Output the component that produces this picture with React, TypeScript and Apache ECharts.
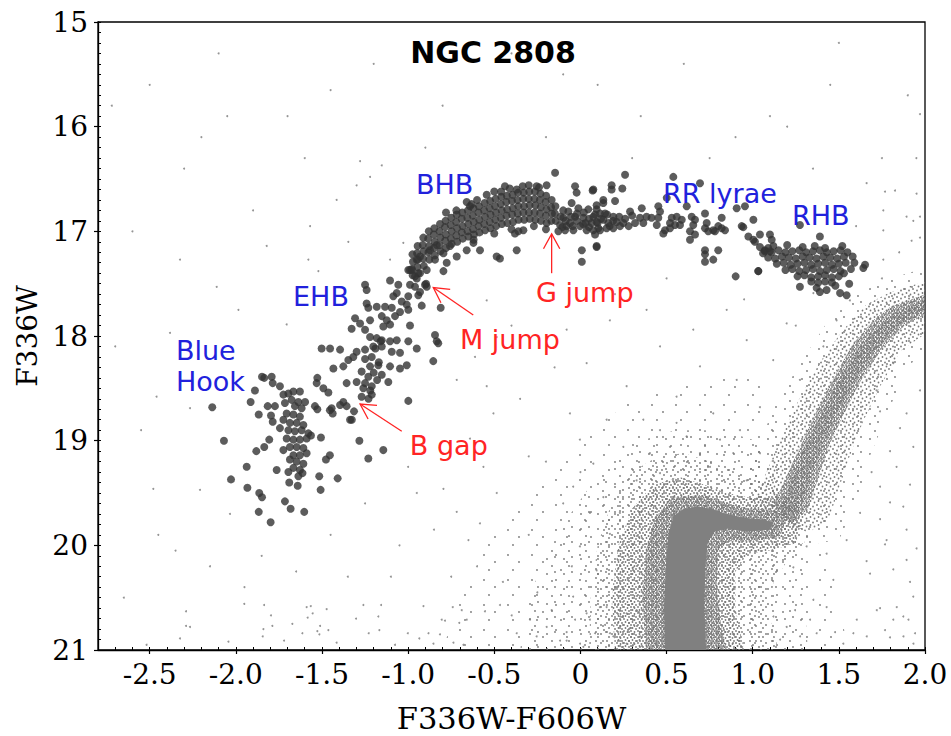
import { useEffect, useRef } from "react";
import * as echarts from "echarts";

// Axis ranges and tick labels
const X_MIN = -2.8;
const X_MAX = 2.0;
const Y_MIN = 15;
const Y_MAX = 21;
const xTickValues = [-2.5, -2.0, -1.5, -1.0, -0.5, 0, 0.5, 1.0, 1.5, 2.0];
const yTickValues = [15, 16, 17, 18, 19, 20, 21];

// Horizontal-branch stars, grouped by segment (colour F336W-F606W, magnitude F336W)
const blueHook = [
  [-2.137, 18.68], [-2.069, 19.0], [-2.028, 19.37], [-1.937, 19.25], [-1.933, 19.45], [-1.867, 19.68],
  [-1.798, 19.78], [-1.864, 19.5], [-1.848, 19.54], [-1.881, 19.1], [-1.835, 19.06], [-1.806, 18.99],
  [-1.867, 18.75], [-1.914, 18.63], [-1.889, 18.52], [-1.848, 18.39], [-1.835, 18.4], [-1.792, 18.39],
  [-1.786, 18.45], [-1.744, 18.48], [-1.815, 18.67], [-1.773, 18.67], [-1.796, 18.76], [-1.786, 18.82],
  [-1.744, 18.88], [-1.763, 19.28], [-1.715, 19.58], [-1.682, 19.65], [-1.603, 19.68], [-1.69, 19.4],
  [-1.641, 19.43], [-1.613, 19.31], [-1.516, 19.34], [-1.508, 19.47], [-1.409, 19.36], [-1.477, 19.18],
  [-1.454, 19.14], [-1.506, 18.97], [-1.564, 18.95], [-1.541, 18.67], [-1.527, 18.7], [-1.527, 18.4],
  [-1.531, 18.45], [-1.492, 18.5], [-1.463, 18.54], [-1.454, 18.71], [-1.438, 18.74], [-1.376, 18.63],
  [-1.357, 18.67], [-1.314, 18.72], [-1.337, 18.8], [-1.283, 19.0], [-1.231, 19.17], [-1.357, 18.45],
  [-1.434, 18.31],
  [-1.724, 18.56], [-1.695, 18.55], [-1.666, 18.53], [-1.628, 18.53], [-1.676, 18.61], [-1.637, 18.63],
  [-1.598, 18.63], [-1.715, 18.64], [-1.657, 18.67], [-1.618, 18.69], [-1.705, 18.74], [-1.666, 18.75],
  [-1.628, 18.77], [-1.724, 18.8], [-1.686, 18.83], [-1.647, 18.83], [-1.608, 18.85], [-1.695, 18.9],
  [-1.657, 18.91], [-1.618, 18.9], [-1.579, 18.93], [-1.705, 18.98], [-1.666, 18.99], [-1.628, 18.99],
  [-1.589, 18.98], [-1.686, 19.06], [-1.647, 19.06], [-1.608, 19.07], [-1.724, 19.09], [-1.666, 19.14],
  [-1.628, 19.14], [-1.589, 19.12], [-1.686, 19.18], [-1.647, 19.2], [-1.608, 19.22], [-1.666, 19.26],
  [-1.628, 19.28], [-1.695, 19.3], [-1.637, 19.34],
];

const ehb = [
  [-1.105, 17.47], [-0.989, 17.51], [-0.96, 17.53], [-0.941, 17.61], [-0.896, 17.5], [-0.892, 17.53],
  [-0.921, 17.71], [-0.811, 17.73], [-1.066, 17.59], [-1.086, 17.62], [-1.037, 17.67], [-1.008, 17.7],
  [-0.999, 17.75], [-1.047, 17.77], [-1.25, 17.51], [-1.241, 17.56], [-1.241, 17.69], [-1.231, 17.73],
  [-1.182, 17.72], [-1.134, 17.72], [-1.095, 17.73], [-1.153, 17.81], [-1.124, 17.85], [-1.076, 17.81],
  [-1.144, 17.91], [-1.105, 17.89], [-0.989, 17.9], [-1.308, 17.83], [-1.328, 17.93], [-1.279, 17.88],
  [-1.25, 17.94], [-1.221, 17.85], [-1.221, 18.01], [-1.182, 18.02], [-1.153, 18.04], [-1.105, 18.05],
  [-1.066, 18.04], [-0.999, 18.05], [-0.95, 18.12], [-0.844, 17.99], [-0.834, 18.05], [-0.854, 18.24],
  [-1.299, 18.15], [-1.25, 18.13], [-1.202, 18.1], [-1.153, 18.1], [-1.047, 18.16], [-1.095, 18.15],
  [-1.211, 18.2], [-1.221, 18.29], [-1.173, 18.28], [-1.105, 18.29], [-1.047, 18.31], [-1.008, 18.28],
  [-1.395, 18.13], [-1.347, 18.23], [-1.318, 18.2], [-1.376, 18.29], [-1.453, 18.12], [-1.502, 18.12],
  [-1.27, 18.34], [-1.231, 18.39], [-1.25, 18.45], [-1.211, 18.48], [-1.299, 18.44], [-1.211, 18.56],
  [-1.26, 18.5], [-1.153, 18.37], [-1.115, 18.44], [-0.999, 18.62], [-1.2, 18.35], [-1.18, 18.42],
  [-1.22, 18.52], [-1.17, 18.25], [-1.25, 18.22], [-1.19, 18.12], [-1.16, 18.05], [-1.23, 18.6],
  [-1.27, 18.58], [-1.444, 18.69], [-1.327, 18.8], [-1.395, 18.66], [-1.144, 19.09], [-1.057, 17.51],
  [-0.999, 17.62], [-0.95, 17.45], [-0.902, 17.51], [-0.931, 17.58], [-0.999, 17.37], [-0.825, 18.07],
];

const bhb = [
  [-0.975, 17.22], [-0.972, 17.29], [-0.978, 17.36], [-0.974, 17.42],
  [-0.945, 17.14], [-0.948, 17.21], [-0.943, 17.27], [-0.946, 17.34], [-0.941, 17.4],
  [-0.912, 17.06], [-0.915, 17.13], [-0.91, 17.19], [-0.913, 17.26], [-0.909, 17.33],
  [-0.88, 17.0], [-0.884, 17.07], [-0.878, 17.14], [-0.882, 17.2], [-0.877, 17.27],
  [-0.848, 16.97], [-0.851, 17.03], [-0.846, 17.1], [-0.85, 17.16], [-0.845, 17.23],
  [-0.815, 16.93], [-0.818, 17.0], [-0.813, 17.06], [-0.817, 17.13], [-0.812, 17.19],
  [-0.783, 16.9], [-0.786, 16.96], [-0.781, 17.03], [-0.785, 17.09], [-0.78, 17.16],
  [-0.75, 16.87], [-0.753, 16.94], [-0.748, 17.0], [-0.752, 17.07], [-0.747, 17.12],
  [-0.718, 16.84], [-0.721, 16.91], [-0.716, 16.97], [-0.72, 17.04], [-0.715, 17.1],
  [-0.686, 16.82], [-0.689, 16.88], [-0.684, 16.95], [-0.688, 17.01], [-0.683, 17.07],
  [-0.653, 16.8], [-0.656, 16.87], [-0.651, 16.93], [-0.655, 17.0], [-0.65, 17.05],
  [-0.621, 16.78], [-0.624, 16.85], [-0.619, 16.91], [-0.623, 16.98], [-0.618, 17.03],
  [-0.589, 16.76], [-0.592, 16.82], [-0.587, 16.89], [-0.591, 16.95], [-0.586, 17.01],
  [-0.556, 16.73], [-0.559, 16.8], [-0.554, 16.86], [-0.558, 16.93], [-0.553, 16.99],
  [-0.524, 16.71], [-0.527, 16.78], [-0.522, 16.84], [-0.526, 16.91], [-0.521, 16.97],
  [-0.492, 16.69], [-0.495, 16.76], [-0.49, 16.82], [-0.494, 16.89], [-0.489, 16.95],
  [-0.459, 16.67], [-0.462, 16.74], [-0.457, 16.8], [-0.461, 16.87], [-0.456, 16.93],
  [-0.427, 16.66], [-0.43, 16.72], [-0.425, 16.79], [-0.429, 16.85], [-0.424, 16.92],
  [-0.394, 16.65], [-0.397, 16.71], [-0.392, 16.78], [-0.396, 16.84], [-0.391, 16.91],
  [-0.362, 16.63], [-0.365, 16.7], [-0.36, 16.76], [-0.364, 16.83], [-0.359, 16.89],
  [-0.329, 16.63], [-0.332, 16.69], [-0.327, 16.76], [-0.331, 16.82], [-0.326, 16.89],
  [-0.297, 16.62], [-0.3, 16.69], [-0.295, 16.75], [-0.299, 16.82], [-0.294, 16.88],
  [-0.264, 16.62], [-0.267, 16.69], [-0.262, 16.75], [-0.266, 16.82], [-0.261, 16.89],
  [-0.232, 16.64], [-0.235, 16.7], [-0.23, 16.77], [-0.234, 16.83], [-0.229, 16.9],
  [-0.199, 16.66], [-0.202, 16.72], [-0.197, 16.79], [-0.201, 16.85], [-0.196, 16.92],
  [-0.167, 16.7], [-0.17, 16.77], [-0.165, 16.83], [-0.169, 16.9],
  [-0.145, 16.76], [-0.148, 16.83], [-0.143, 16.9],
  [-0.931, 17.24], [-0.873, 17.18], [-0.834, 17.13], [-0.795, 17.21], [-0.757, 17.14], [-0.718, 17.24],
  [-0.66, 17.18], [-0.621, 17.11], [-0.776, 17.3], [-0.844, 17.27], [-0.892, 17.37], [-0.95, 17.27],
  [-0.931, 17.4], [-0.979, 17.37], [-0.795, 17.38], [-0.989, 17.37], [-0.96, 17.43],
  [-0.147, 16.44], [-0.438, 16.57], [-0.544, 16.65], [-0.641, 16.76], [-0.254, 16.57], [-0.196, 16.56],
  [-0.37, 16.6], [-0.631, 16.74], [-0.37, 17.18], [-0.486, 17.24], [-0.467, 17.26], [-0.583, 17.18],
  [-0.38, 17.02], [-0.36, 17.0], [-0.331, 16.99], [-0.72, 16.8], [-0.46, 16.62], [-0.3, 16.56],
  [-0.78, 16.82], [-0.66, 16.72], [-0.6, 16.7], [-0.5, 16.62], [-0.41, 16.59], [-0.335, 16.57],
  [-0.24, 16.58], [-0.62, 17.08], [-0.5, 17.02], [-0.4, 16.98], [-0.27, 16.95], [-0.2, 16.98],
];

const rrLyrae = [
  [-0.128, 17.0], [-0.118, 16.94], [-0.099, 16.87], [-0.089, 16.99], [-0.07, 16.81], [-0.06, 16.92],
  [-0.051, 16.73], [-0.041, 16.99], [-0.031, 16.86], [-0.012, 16.78], [-0.002, 16.95], [0.017, 16.87],
  [0.036, 16.99], [0.046, 16.79], [0.065, 16.92], [0.085, 16.84], [0.104, 16.97], [0.094, 16.75],
  [-0.031, 16.57], [-0.022, 16.63], [0.071, 16.61], [0.008, 17.18], [0.008, 17.29], [0.094, 17.14],
  [-0.1, 16.8], [-0.02, 16.9], [0.05, 16.88], [-0.08, 16.95], [0.02, 16.82],
  [-0.115, 16.86], [-0.085, 16.9], [-0.055, 16.86], [-0.02, 16.83], [0.015, 16.93], [0.05, 16.96],
  [0.12, 16.88], [0.155, 16.84], [0.19, 16.9], [0.225, 16.86], [0.26, 16.88], [0.3, 16.85],
  [-0.105, 16.96], [-0.045, 16.95], [0.03, 16.92], [0.1, 16.92], [0.17, 16.95], [0.28, 16.95],
  [0.259, 16.46], [0.181, 16.56], [0.181, 16.6], [0.243, 16.59], [0.075, 16.6], [0.133, 16.7],
  [0.133, 16.73], [0.201, 16.71], [0.094, 16.79], [0.114, 16.83], [0.143, 16.83], [0.075, 16.86],
  [0.094, 16.91], [0.133, 16.89], [0.162, 16.92], [0.191, 16.86], [0.21, 16.91], [0.23, 16.95],
  [0.191, 16.97], [0.152, 16.97], [0.075, 16.99], [0.114, 16.99], [0.085, 17.03], [0.288, 16.81],
  [0.356, 16.78], [0.346, 16.87], [0.384, 16.86], [0.413, 16.87], [0.317, 16.92], [0.249, 16.92],
  [0.365, 16.92], [0.094, 17.15], [0.452, 16.76], [0.462, 16.81], [0.452, 16.87], [0.443, 16.94],
  [0.501, 16.68], [0.539, 16.48],
  [0.53, 16.87], [0.559, 16.86], [0.588, 16.89], [0.52, 16.92], [0.549, 16.94], [0.578, 16.94],
  [0.491, 16.99], [0.481, 17.02], [0.52, 16.97], [0.617, 16.76], [0.694, 16.54], [0.646, 16.86],
  [0.665, 16.89], [0.655, 16.94], [0.636, 17.0], [0.665, 17.03], [0.636, 17.08], [0.723, 16.83],
  [0.733, 16.92], [0.742, 17.0], [0.723, 16.97], [0.82, 16.87], [0.8, 16.95], [0.82, 16.97],
  [0.839, 16.99], [0.771, 16.99], [0.781, 17.0], [0.723, 17.18], [0.723, 17.22], [0.723, 17.29],
  [0.771, 17.27], [0.8, 17.18], [0.907, 16.78], [0.955, 16.76], [1.004, 16.89], [0.936, 16.95],
  [0.975, 17.05], [1.004, 17.08], [1.042, 17.03], [1.1, 17.03], [1.11, 17.08], [1.042, 17.15],
  [1.071, 17.18], [1.1, 17.19], [1.033, 17.38], [0.901, 17.43], [0.945, 16.96], [1.013, 17.1],
];

const rhb = [
  [1.07, 17.19], [1.11, 17.2], [1.15, 17.18], [1.19, 17.2], [1.23, 17.19], [1.27, 17.18], [1.31, 17.2],
  [1.35, 17.19], [1.39, 17.18], [1.43, 17.2], [1.47, 17.19], [1.51, 17.18], [1.55, 17.2],
  [1.09, 17.25], [1.13, 17.26], [1.17, 17.24], [1.21, 17.25], [1.25, 17.26], [1.29, 17.24], [1.33, 17.25],
  [1.37, 17.26], [1.41, 17.24], [1.45, 17.25], [1.49, 17.26], [1.53, 17.24],
  [1.14, 17.31], [1.18, 17.3], [1.22, 17.32], [1.26, 17.31], [1.3, 17.3], [1.34, 17.32], [1.38, 17.31],
  [1.42, 17.3], [1.46, 17.32], [1.5, 17.31], [1.54, 17.3],
  [1.19, 17.37], [1.23, 17.36], [1.27, 17.38], [1.31, 17.37], [1.35, 17.36], [1.39, 17.38], [1.43, 17.37],
  [1.47, 17.36], [1.51, 17.38],
  [1.26, 17.43], [1.3, 17.42], [1.34, 17.44], [1.38, 17.43], [1.42, 17.42], [1.46, 17.44], [1.5, 17.43],
  [1.34, 17.48], [1.38, 17.49], [1.42, 17.48], [1.46, 17.49],
  [1.12, 17.14], [1.2, 17.13], [1.29, 17.15], [1.36, 17.14], [1.42, 17.16], [1.52, 17.14], [1.53, 17.4],
  [1.48, 17.52], [1.56, 17.5], [1.58, 17.24], [1.59, 17.3], [1.57, 17.36], [1.274, 16.94], [1.39, 17.05],
  [1.274, 17.53], [1.371, 17.54], [1.429, 17.56], [1.39, 17.58], [1.507, 17.59], [1.545, 17.61],
  [1.652, 17.32], [1.642, 17.35], [1.032, 17.38], [1.09, 17.16], [1.06, 17.21],
];

// Field stars outside the crowded sequences
const fieldLeft = [
  [-2.289, 20.63], [-2.289, 20.77], [-2.266, 20.78], [-2.324, 20.89], [-2.518, 20.95], [-2.043, 20.92],
  [-1.951, 20.56], [-1.836, 20.57], [-1.796, 20.67], [-1.788, 20.77], [-1.84, 20.8], [-1.844, 20.87],
  [-1.72, 20.91], [-1.672, 20.75], [-1.614, 20.84], [-1.589, 20.59], [-1.565, 20.58], [-1.583, 20.69],
  [-1.554, 20.65], [-1.511, 20.77], [-1.527, 20.82], [-1.515, 20.85], [-1.473, 20.61], [-1.463, 20.81],
  [-1.415, 20.93], [-1.302, 20.7], [-1.26, 20.57], [-1.229, 20.84], [-1.173, 20.68], [-1.167, 20.81],
  [-1.157, 20.57], [-1.076, 20.95], [-1.002, 20.84], [-0.935, 20.89], [-0.911, 20.58], [-0.882, 20.84],
  [-0.853, 20.94], [-0.815, 20.85], [-0.805, 20.71], [-0.786, 20.72], [-0.741, 20.59], [-0.737, 20.93],
  [-0.703, 20.74], [-0.689, 20.62], [-0.66, 20.71], [-0.679, 20.95],
  [-1.279, 16.33], [-1.153, 16.37], [-1.221, 16.48], [-1.299, 16.56], [-1.347, 17.1], [-1.579, 17.27],
  [-1.521, 17.38], [-1.705, 17.89], [-1.985, 17.75], [-2.266, 18.69], [-2.46, 18.58], [-2.479, 19.46],
  [-2.208, 19.47], [-2.034, 19.7], [-0.795, 19.46], [-0.718, 19.68], [-0.583, 19.79], [-1.105, 17.27],
  [-1.028, 17.11], [-1.415, 16.7], [-1.569, 16.95], [-1.821, 17.14], [-2.111, 17.53], [-2.324, 17.27],
  [-2.382, 17.97], [-0.641, 18.98], [-0.718, 18.42], [-0.612, 18.2], [-0.544, 18.48], [-0.505, 18.74],
  [-0.563, 19.25], [-0.544, 17.66],
  [-2.5, 15.6], [-2.1, 15.3], [-1.7, 15.9], [-1.2, 15.4], [-0.8, 15.8], [-2.3, 16.4], [-1.9, 16.8],
  [-0.9, 16.2], [-2.6, 17.0], [-2.7, 18.1], [-2.45, 19.9], [-2.15, 20.2], [-1.85, 20.1], [-1.1, 20.3],
  [-0.6, 20.2], [-1.45, 19.9], [-0.95, 19.5], [-1.05, 20.0], [-2.65, 20.5], [-2.35, 20.05], [-1.35, 20.3],
  [-0.75, 20.3], [-2.55, 18.9], [-1.0, 19.25], [-0.85, 19.85], [-1.25, 19.6], [-0.65, 19.95], [-1.65, 20.25],
  [-1.95, 20.4], [-2.05, 15.9], [-1.45, 15.65], [-0.7, 16.5], [-2.2, 16.1], [-2.72, 15.8], [-1.6, 16.3],
];

const fieldCentre = [
  [-0.554, 20.63], [-0.467, 20.57], [-0.399, 20.67], [-0.37, 20.84], [-0.293, 20.71], [-0.254, 20.87],
  [-0.196, 20.78], [-0.167, 20.62], [-0.118, 20.91], [-0.08, 20.83], [-0.031, 20.71], [-0.002, 20.94],
  [0.036, 20.65], [0.085, 20.84], [0.143, 20.76], [0.152, 20.59], [0.191, 20.87], [0.23, 20.68],
  [0.268, 20.94], [0.288, 20.79], [0.326, 20.62], [0.346, 20.87], [0.385, 20.71], [-0.486, 19.5],
  [-0.486, 18.01], [-0.08, 17.94], [0.036, 18.26], [0.171, 17.85], [0.268, 18.48], [0.384, 17.75],
  [0.462, 18.1], [0.558, 18.58], [0.655, 17.94], [0.694, 18.29], [0.771, 18.74], [0.849, 17.75],
  [0.907, 18.42], [0.965, 18.04], [-0.061, 18.74], [-0.003, 18.99], [0.075, 19.22], [-0.042, 19.44],
  [0.055, 19.69], [0.133, 19.54], [0.171, 19.89], [-0.003, 20.01], [0.094, 20.24], [0.21, 20.4],
  [-0.042, 20.49], [0.055, 20.71], [0.171, 20.84], [0.268, 20.65], [0.307, 20.21], [0.229, 19.69],
  [0.326, 19.38], [0.403, 19.12], [0.462, 18.9], [0.365, 18.8], [0.249, 19.06], [0.152, 18.8],
  [-0.08, 20.91], [0.017, 20.97], [0.113, 20.59], [0.268, 20.01], [0.384, 19.54], [0.462, 19.31],
  [0.52, 19.06], [0.558, 18.83], [0.616, 18.96], [0.694, 19.12], [0.752, 19.25], [0.81, 18.99],
  [0.887, 19.12], [0.965, 19.38], [0.926, 18.9],
  [-0.4, 15.3], [0.1, 15.6], [0.6, 15.4], [-0.2, 16.1], [0.3, 16.3], [0.9, 16.1], [-0.3, 19.9],
  [-0.2, 19.2], [-0.35, 18.6], [-0.15, 18.3], [0.2, 17.6], [0.5, 17.45], [0.95, 17.65], [-0.45, 20.35],
  [-0.25, 20.45], [-0.05, 20.2], [-0.1, 19.6], [0.0, 19.3], [-0.3, 19.15], [-0.4, 17.9], [0.75, 16.3],
  [0.35, 15.9], [-0.1, 15.5],
];

const fieldRight = [
  [1.12, 20.68], [1.159, 20.9], [1.197, 20.78], [1.246, 20.62], [1.275, 20.87], [1.333, 20.71],
  [1.371, 20.84], [1.429, 20.59], [1.478, 20.83], [1.526, 20.94], [1.604, 20.71], [1.662, 20.87],
  [1.72, 20.62], [1.768, 20.81], [1.836, 20.59], [1.875, 20.87], [1.904, 20.71], [1.933, 20.94],
  [1.042, 18.68], [1.119, 18.23], [1.197, 17.88], [1.236, 18.93], [1.274, 18.42], [1.352, 17.59],
  [1.41, 18.1], [1.487, 17.85], [1.564, 17.66], [1.623, 18.2], [1.719, 18.52], [1.816, 18.26],
  [1.893, 18.74], [1.971, 18.52], [1.932, 19.06], [1.835, 19.25], [1.739, 19.44], [1.623, 19.69],
  [1.777, 19.95], [1.893, 20.14], [1.681, 20.27], [1.932, 20.49], [1.816, 20.71], [1.584, 20.84],
  [1.352, 20.52], [1.468, 20.33], [1.236, 20.21], [1.313, 20.01], [1.429, 20.08], [1.545, 19.95],
  [1.042, 19.12],
  [1.971, 15.88], [1.661, 16.54], [1.768, 16.62], [1.826, 16.61], [1.951, 16.64], [1.758, 16.8],
  [1.893, 16.86], [1.932, 16.9], [1.971, 16.86], [1.758, 16.99], [1.922, 17.09], [1.971, 17.06],
  [1.758, 17.27], [1.661, 18.42], [1.739, 18.72], [1.855, 18.88], [1.797, 19.1], [1.69, 19.3],
  [1.913, 19.42], [1.739, 19.75], [1.797, 19.59], [1.874, 19.63], [1.893, 19.85], [1.768, 19.99],
  [1.951, 20.03], [1.661, 20.15], [1.816, 20.23], [1.913, 20.35], [1.739, 20.6], [1.874, 20.68],
  [1.797, 20.88], [1.942, 20.84],
  [1.1, 15.9], [1.5, 15.2], [1.9, 15.7], [1.35, 16.4], [1.75, 16.3], [1.95, 16.3], [1.6, 16.95],
  [1.85, 17.2], [1.25, 17.9], [1.75, 17.45], [1.2, 16.0], [1.45, 15.6],
];

// Outlines of the crowded regions, outermost (faintest) first:
// field cloud, turn-off, sub-giant and red-giant branches
const fieldCloud = [
  [-0.8, 21.0], [-0.72, 20.6], [-0.66, 20.25], [-0.52, 19.9], [-0.4, 19.6], [-0.22, 19.3], [-0.05, 19.05],
  [0.12, 18.85], [0.3, 18.6], [0.5, 18.5], [0.72, 18.45], [0.9, 18.35], [1.05, 18.4], [1.1, 18.75],
  [1.2, 19.15], [1.3, 19.6], [1.42, 20.05], [1.5, 20.5], [1.55, 21.0],
];
const fieldInner = [
  [-0.35, 21.0], [-0.3, 20.5], [-0.2, 20.1], [-0.08, 19.75], [0.05, 19.45], [0.2, 19.2], [0.35, 19.0],
  [0.55, 18.9], [0.75, 18.9], [0.92, 18.95], [1.02, 19.0], [1.1, 19.3], [1.2, 19.7], [1.3, 20.1],
  [1.3, 20.5], [1.32, 21.0],
];
const msOuter = [
  [0.05, 21.0], [0.06, 20.5], [0.1, 20.0], [0.18, 19.6], [0.3, 19.3], [0.45, 19.15], [0.6, 19.12],
  [0.75, 19.2], [0.9, 19.3], [1.05, 19.38], [1.18, 19.48], [1.28, 19.7], [1.3, 19.98], [1.2, 20.15],
  [1.12, 20.35], [1.1, 20.7], [1.15, 21.0],
];
const msHalo = [
  [0.2, 21.0], [0.18, 20.5], [0.22, 20.0], [0.3, 19.65], [0.42, 19.42], [0.58, 19.35], [0.72, 19.42],
  [0.85, 19.5], [1.0, 19.55], [1.12, 19.55], [1.22, 19.62], [1.28, 19.8], [1.25, 19.98], [1.1, 20.05],
  [0.97, 20.08], [0.9, 20.25], [0.9, 20.6], [0.95, 21.0],
];
const msInner = [
  [0.38, 21.0], [0.36, 20.5], [0.38, 20.05], [0.43, 19.75], [0.52, 19.55], [0.7, 19.52], [0.82, 19.58],
  [0.95, 19.64], [1.1, 19.66], [1.2, 19.72], [1.16, 19.92], [1.0, 19.96], [0.86, 19.96], [0.8, 20.05],
  [0.79, 20.4], [0.82, 20.8], [0.85, 21.0],
];
const msCore = [
  [0.49, 21.0], [0.485, 20.6], [0.495, 20.2], [0.51, 19.9], [0.54, 19.72], [0.6, 19.65], [0.68, 19.63],
  [0.76, 19.65], [0.85, 19.7], [0.96, 19.74], [1.05, 19.75], [1.12, 19.78], [1.1, 19.85], [0.96, 19.87],
  [0.86, 19.84], [0.78, 19.87], [0.74, 19.96], [0.725, 20.2], [0.72, 20.6], [0.73, 21.0],
];
const rgbOuter = [
  [0.92, 19.5], [1.02, 19.1], [1.12, 18.7], [1.26, 18.3], [1.42, 17.9], [1.6, 17.6], [1.8, 17.45],
  [2.0, 17.35], [2.0, 18.1], [1.88, 18.35], [1.78, 18.75], [1.68, 19.15], [1.6, 19.6], [1.5, 19.95],
  [1.3, 20.0],
];
const rgbHalo = [
  [1.0, 19.6], [1.08, 19.3], [1.17, 18.95], [1.27, 18.6], [1.39, 18.25], [1.52, 17.95], [1.66, 17.7],
  [1.8, 17.58], [2.0, 17.48], [2.0, 17.98], [1.86, 18.14], [1.74, 18.48], [1.64, 18.82], [1.56, 19.16],
  [1.5, 19.46], [1.44, 19.76], [1.32, 19.88],
];
const rgbBand = [
  [1.12, 19.62], [1.19, 19.36], [1.28, 19.04], [1.37, 18.72], [1.47, 18.4], [1.58, 18.08], [1.7, 17.85],
  [1.8, 17.72], [1.9, 17.66], [2.0, 17.6], [2.0, 17.8], [1.88, 17.9], [1.75, 18.12], [1.63, 18.42],
  [1.53, 18.74], [1.44, 19.06], [1.38, 19.36], [1.32, 19.66], [1.22, 19.8],
];
const rgbCore = [
  [1.16, 19.65], [1.22, 19.38], [1.3, 19.06], [1.4, 18.74], [1.5, 18.42], [1.61, 18.12], [1.76, 17.86],
  [1.9, 17.72], [2.0, 17.66], [2.0, 17.75], [1.92, 17.8], [1.82, 17.94], [1.7, 18.16], [1.59, 18.44],
  [1.49, 18.74], [1.4, 19.06], [1.33, 19.38], [1.27, 19.7],
];
const rgbClump = [
  [1.78, 17.76], [1.86, 17.7], [1.94, 17.68], [1.99, 17.72], [1.96, 17.83], [1.88, 17.87], [1.8, 17.85],
];

// Text labels and arrows (data coordinates)
const BLUE = "#2121dc";
const RED = "#ff2424";
const annotations = [
  { text: "BHB", at: [-0.955, 16.555], color: BLUE },
  { text: "EHB", at: [-1.668, 17.626], color: BLUE },
  { text: "Blue", at: [-2.348, 18.14], color: BLUE },
  { text: "Hook", at: [-2.348, 18.438], color: BLUE },
  { text: "RR lyrae", at: [0.479, 16.64], color: BLUE },
  { text: "RHB", at: [1.228, 16.85], color: BLUE },
  { text: "M jump", at: [-0.699, 18.03], color: RED },
  { text: "G jump", at: [-0.258, 17.58], color: RED },
  { text: "B gap", at: [-0.99, 19.05], color: RED },
];
const arrows = [
  { from: [-0.622, 17.8], to: [-0.854, 17.537] },
  { from: [-1.037, 18.91], to: [-1.279, 18.65] },
  { from: [-0.167, 17.4], to: [-0.167, 17.024] },
];

const SERIF = '"DejaVu Serif", serif';
const SANS = '"DejaVu Sans", sans-serif';

// Stipple fills: a small tile of grey dots repeated over a region
const stipple = (w: number, h: number, dots: number[][], r = 0.9) => {
  const circles = dots.map(([cx, cy]) => `<circle cx="${cx}" cy="${cy}" r="${r}" fill="#777777"/>`).join("");
  const svg = `<svg xmlns="http://www.w3.org/2000/svg" width="${w}" height="${h}">${circles}</svg>`;
  return {
    image: "data:image/svg+xml;charset=utf-8," + encodeURIComponent(svg),
    repeat: "repeat",
    imageWidth: w,
    imageHeight: h,
  };
};
const STIPPLE_FAINT = stipple(24, 25, [[4, 5], [15, 12], [9, 20]]);
const STIPPLE_SPARSE = stipple(17, 15, [[3, 4], [11, 2], [8, 11]]);
const STIPPLE_LIGHT = stipple(11, 9, [[2, 2], [7, 4], [4, 7]]);
const STIPPLE_THIN = stipple(8, 8, [[1, 1], [5, 2.5], [2.5, 5], [6.5, 6.5]]);
const STIPPLE_MEDIUM = stipple(7, 6, [[1, 1], [4.5, 2], [2.5, 4], [6, 5]]);
const STIPPLE_CLOSE = stipple(6, 5, [[0.5, 3], [3, 0.5], [3.5, 3.5], [5.5, 2]]);
const STIPPLE_DENSE = stipple(5, 4, [[1, 1], [3.5, 1.5], [2, 3], [4.5, 3.5]]);

const minorTicks = (lo: number, hi: number, step: number) => {
  const out: number[] = [];
  const n = Math.round((hi - lo) / step);
  for (let i = 0; i <= n; i++) out.push(Number((lo + i * step).toFixed(2)));
  return out;
};

const regionSeries = (poly: number[][], fill: any) => ({
  type: "custom",
  xAxisIndex: 0,
  yAxisIndex: 0,
  silent: true,
  clip: true,
  z: 1,
  data: [poly[0]],
  renderItem: (_params: any, api: any) => ({
    type: "polygon",
    shape: { points: poly.map((p) => api.coord(p)) },
    style: { fill, stroke: null },
  }),
});

export default function App() {
  const ref = useRef<HTMLDivElement>(null);

  useEffect(() => {
    if (!ref.current) return;
    const chart = echarts.init(ref.current, null, { renderer: "svg" });
    const gridBox = { left: 98, right: 26, top: 22, bottom: 86 };
    const axisLine = { show: true, onZero: false, lineStyle: { color: "#000", width: 1.3 } };

    chart.setOption({
      animation: false,
      backgroundColor: "#fff",
      grid: [
        { ...gridBox, show: true, borderColor: "#000", borderWidth: 1.3, backgroundColor: "transparent", outerBoundsMode: "none" },
        { ...gridBox, outerBoundsMode: "none" },
      ],
      xAxis: [
        {
          type: "value", gridIndex: 0, min: X_MIN, max: X_MAX, position: "bottom",
          axisLine,
          axisTick: { show: true, inside: false, length: 4, customValues: xTickValues, lineStyle: { color: "#000", width: 1.2 } },
          axisLabel: {
            customValues: xTickValues, margin: 10, color: "#000", fontFamily: SERIF, fontSize: 28,
            formatter: (v: number) => (v === 0 ? "0" : v.toFixed(1)),
          },
          splitLine: { show: false },
          name: "F336W-F606W", nameLocation: "middle", nameGap: 53,
          nameTextStyle: { color: "#000", fontFamily: SERIF, fontSize: 30.5 },
        },
        {
          type: "value", gridIndex: 1, min: X_MIN, max: X_MAX, position: "bottom",
          axisLine: { show: false, onZero: false },
          axisTick: { show: true, inside: true, length: 3, customValues: minorTicks(X_MIN, X_MAX, 0.1), lineStyle: { color: "#000", width: 1 } },
          axisLabel: { show: false },
          splitLine: { show: false },
        },
      ],
      yAxis: [
        {
          type: "value", gridIndex: 0, min: Y_MIN, max: Y_MAX, inverse: true, position: "left",
          axisLine,
          axisTick: { show: true, inside: false, length: 4, customValues: yTickValues, lineStyle: { color: "#000", width: 1.2 } },
          axisLabel: { customValues: yTickValues, margin: 10, color: "#000", fontFamily: SERIF, fontSize: 28 },
          splitLine: { show: false },
          name: "F336W", nameLocation: "middle", nameGap: 53,
          nameTextStyle: { color: "#000", fontFamily: SERIF, fontSize: 28 },
        },
        {
          type: "value", gridIndex: 1, min: Y_MIN, max: Y_MAX, inverse: true, position: "left",
          axisLine: { show: false, onZero: false },
          axisTick: { show: true, inside: true, length: 3, customValues: minorTicks(Y_MIN, Y_MAX, 0.1), lineStyle: { color: "#000", width: 1 } },
          axisLabel: { show: false },
          splitLine: { show: false },
        },
      ],
      series: [
        regionSeries(fieldCloud, STIPPLE_FAINT),
        regionSeries(fieldInner, STIPPLE_SPARSE),
        regionSeries(msOuter, STIPPLE_LIGHT),
        regionSeries(rgbOuter, STIPPLE_SPARSE),
        regionSeries(rgbHalo, STIPPLE_THIN),
        regionSeries(msHalo, STIPPLE_MEDIUM),
        regionSeries(rgbBand, STIPPLE_DENSE),
        regionSeries(rgbCore, STIPPLE_CLOSE),
        regionSeries(msInner, STIPPLE_DENSE),
        regionSeries(rgbClump, STIPPLE_LIGHT),
        regionSeries(msCore, "#808080"),
        {
          type: "scatter", name: "field", silent: true, z: 2,
          data: [...fieldLeft, ...fieldCentre, ...fieldRight],
          symbolSize: 2, itemStyle: { color: "#7a7a7a" },
        },
        {
          type: "scatter", name: "HB", silent: true, z: 3,
          data: [...blueHook, ...ehb, ...bhb, ...rrLyrae, ...rhb],
          symbolSize: 8, itemStyle: { color: "#333333" },
        },
        {
          type: "custom", name: "arrows", silent: true, z: 4, clip: false,
          data: arrows.map((a) => a.to),
          renderItem: (params: any, api: any) => {
            const a = arrows[params.dataIndex];
            const tail = api.coord(a.from);
            const tip = api.coord(a.to);
            const ang = Math.atan2(tail[1] - tip[1], tail[0] - tip[0]);
            const len = 17;
            const half = 0.5;
            const p1 = [tip[0] + len * Math.cos(ang + half), tip[1] + len * Math.sin(ang + half)];
            const p2 = [tip[0] + len * Math.cos(ang - half), tip[1] + len * Math.sin(ang - half)];
            return {
              type: "group",
              children: [
                { type: "line", shape: { x1: tail[0], y1: tail[1], x2: tip[0], y2: tip[1] }, style: { stroke: RED, lineWidth: 1.3 } },
                { type: "polyline", shape: { points: [p1, tip, p2] }, style: { stroke: RED, lineWidth: 1.3, fill: null } },
              ],
            };
          },
        },
        {
          type: "custom", name: "labels", silent: true, z: 5, clip: false,
          data: annotations.map((a) => a.at),
          renderItem: (params: any, api: any) => {
            const a = annotations[params.dataIndex];
            const p = api.coord(a.at);
            return {
              type: "text", x: p[0], y: p[1],
              style: { text: a.text, fill: a.color, fontFamily: SANS, fontSize: 27, align: "left", verticalAlign: "middle" },
            };
          },
        },
      ],
      graphic: [
        {
          type: "text", x: 493, y: 52, silent: true,
          style: { text: "NGC 2808", fill: "#000", fontFamily: SANS, fontWeight: "bold", fontSize: 30, align: "center", verticalAlign: "middle", textAlign: "center", textVerticalAlign: "middle" },
        },
      ],
    });

    return () => chart.dispose();
  }, []);

  return <div ref={ref} style={{ position: "fixed", left: 0, top: 0, width: 951, height: 736 }} />;
}
